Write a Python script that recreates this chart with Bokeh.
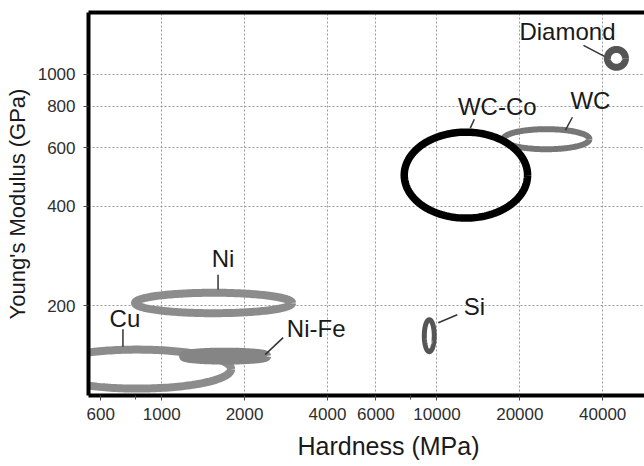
import numpy as np
from bokeh.plotting import figure
from bokeh.models import FixedTicker, LogAxis, PrintfTickFormatter, Range1d, ColumnDataSource, Title
from bokeh.core.properties import value
from bokeh.embed import file_html
from bokeh.resources import INLINE

# ---- data ----
materials   = ["Cu", "Ni-Fe", "Ni", "Si", "WC", "WC-Co", "Diamond"]
hardness_lo = [374, 1205, 800, 8995, 17420, 7605, 41600]      # MPa
hardness_hi = [1787, 2395, 2978, 9776, 35800, 21340, 48400]   # MPa
modulus_lo  = [112.5, 137.6, 190, 145.4, 594, 368, 1050]      # GPa
modulus_hi  = [147.5, 144.4, 219, 181.5, 683, 669, 1189]      # GPa

# label anchor (text centre) and leader line end points, in data units
label_h   = [735, 3640, 1671, 13670, 36090, 16560, 29790]
label_e   = [183.5, 171, 278, 199.5, 835, 801, 1348]
leader_h0 = [723, 2762, 1602, 11850, 31050, 13670, 34060]
leader_e0 = [169.8, 160.3, 248, 188, 742, 732, 1223]
leader_h1 = [723, 2375, 1602, 10110, 29280, 13210, 40580]
leader_e1 = [150.5, 142.4, 224, 177.8, 678, 688, 1133]

x_ticks = [600, 1000, 2000, 4000, 6000, 10000, 20000, 40000]
x_minor = [800, 8000]
x_grid  = [1000, 2000, 4000, 6000, 10000, 20000, 40000]
y_ticks = [200, 400, 600, 800, 1000]

# ---- styles ----
colors = ["#8c8c8c", "#858585", "#8c8c8c", "#555555", "#777777", "#000000", "#555555"]
widths = [8, 10, 8, 5, 6, 7.5, 7]
FONT = "Liberation Sans"

p = figure(width=644, height=466, x_axis_type="log", y_axis_type="log",
           x_range=Range1d(542, 56750), y_range=Range1d(107.2, 1537),
           output_backend="svg", toolbar_location=None,
           min_border_left=88, min_border_top=12, min_border_right=0,
           min_border_bottom=70)
p.outline_line_color = None
p.background_fill_color = "white"

theta = np.linspace(0, 2 * np.pi, 200)
for i, m in enumerate(materials):
    lx0, lx1 = np.log10(hardness_lo[i]), np.log10(hardness_hi[i])
    ly0, ly1 = np.log10(modulus_lo[i]), np.log10(modulus_hi[i])
    cx, rx = (lx0 + lx1) / 2, (lx1 - lx0) / 2
    cy, ry = (ly0 + ly1) / 2, (ly1 - ly0) / 2
    xs = 10 ** (cx + rx * np.cos(theta))
    ys = 10 ** (cy + ry * np.sin(theta))
    p.line(xs, ys, line_color=colors[i], line_width=widths[i])

seg = ColumnDataSource(dict(x0=leader_h0, y0=leader_e0, x1=leader_h1, y1=leader_e1))
p.segment(x0="x0", y0="y0", x1="x1", y1="y1", source=seg, line_color="#333333", line_width=1.5)

lab = ColumnDataSource(dict(x=label_h, y=label_e, t=materials))
p.text(x="x", y="y", text="t", source=lab, text_align="center", text_baseline="middle",
       text_font=value(FONT), text_font_size="24px", text_color="#1a1a1a")

# axes
for ax in (p.xaxis[0], p.yaxis[0]):
    ax.axis_line_width = 4
    ax.axis_line_color = "black"
    ax.major_tick_in = 0
    ax.major_tick_out = 5
    ax.minor_tick_in = 0
    ax.minor_tick_out = 4
    ax.major_tick_line_color = "#444444"
    ax.minor_tick_line_color = "#444444"
    ax.major_label_text_font = FONT
    ax.major_label_text_font_size = "17px"
    ax.major_label_text_color = "#2e2e2e"
    ax.axis_label_text_font = FONT
    ax.axis_label_text_font_style = "normal"
    ax.axis_label_text_color = "#1a1a1a"
    ax.formatter = PrintfTickFormatter(format="%d")

p.xaxis[0].ticker = FixedTicker(ticks=x_ticks, minor_ticks=x_minor)
p.yaxis[0].ticker = FixedTicker(ticks=y_ticks, minor_ticks=[])
p.yaxis[0].axis_label = "Young's Modulus (GPa)"
p.yaxis[0].axis_label_text_font_size = "22px"
p.xaxis[0].major_label_standoff = 7
p.yaxis[0].major_label_standoff = 8
p.yaxis[0].axis_label_standoff = 5

# x-axis title (off-centre as in the reference, whose frame runs past the crop)
xt = Title(text="Hardness (MPa)", align="left", offset=209, standoff=14,
           text_font=FONT, text_font_size="25px", text_font_style="normal",
           text_color="#1a1a1a")
p.add_layout(xt, "below")

top = LogAxis(ticker=FixedTicker(ticks=[]), major_tick_out=0, major_tick_in=0,
              minor_tick_out=0, minor_tick_in=0, major_label_standoff=0,
              major_label_text_font_size="0px", axis_line_width=4, axis_line_color="black")
p.add_layout(top, "above")

# grids
p.xgrid.ticker = FixedTicker(ticks=x_grid)
p.ygrid.ticker = FixedTicker(ticks=y_ticks)
for g in (p.xgrid[0], p.ygrid[0]):
    g.grid_line_color = "#9a9a9a"
    g.grid_line_dash = "2 2"
    g.grid_line_width = 1

open("out.html", "w").write(file_html(p, INLINE))
